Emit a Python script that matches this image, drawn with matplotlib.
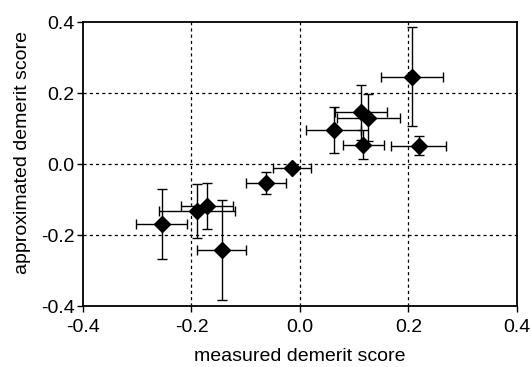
import matplotlib
matplotlib.use("Agg")
import numpy as np
import matplotlib.pyplot as plt

plt.rcParams['font.family'] = ['Liberation Sans', 'DejaVu Sans']

# measured (x) vs approximated (y) demerit scores with error bars
measured = [0.207, 0.113, 0.126, 0.062, 0.117, 0.219, -0.015, -0.062,
            -0.144, -0.255, -0.189, -0.172]
approx = [0.246, 0.146, 0.130, 0.095, 0.054, 0.052, -0.012, -0.052,
          -0.242, -0.169, -0.132, -0.118]
measured_err = [0.057, 0.048, 0.058, 0.050, 0.038, 0.051, 0.035, 0.037,
                0.045, 0.047, 0.070, 0.048]
approx_err = [0.140, 0.077, 0.066, 0.065, 0.041, 0.026, 0.008, 0.031,
              0.140, 0.099, 0.077, 0.066]

ticks = [-0.4, -0.2, 0.0, 0.2, 0.4]
tick_labels = ['-0.4', '-0.2', '0.0', '0.2', '0.4']

fig = plt.figure(figsize=(5.31, 3.67), dpi=100)
ax = fig.add_axes([0.1563, 0.166, 0.8173, 0.774])

ax.errorbar(measured, approx, xerr=measured_err, yerr=approx_err,
            fmt='D', color='black', ecolor='black', markersize=8.5,
            elinewidth=1.0, capsize=3.5, capthick=1.0, zorder=3)

ax.set_xlim(-0.4, 0.4)
ax.set_ylim(-0.4, 0.4)
ax.set_xticks(ticks)
ax.set_xticklabels(tick_labels)
ax.set_yticks(ticks)
ax.set_yticklabels(tick_labels)

for v in [-0.2, 0.0, 0.2]:
    ax.axvline(v, color='black', linestyle=(0, (2.5, 2.5)), linewidth=0.9, zorder=1)
    ax.axhline(v, color='black', linestyle=(0, (2.5, 2.5)), linewidth=0.9, zorder=1)

for s in ax.spines.values():
    s.set_linewidth(1.3)
ax.tick_params(direction='out', length=4, width=1.0, labelsize=14, pad=2)
ax.tick_params(axis='x', pad=5)

ax.set_xlabel('measured demerit score', fontsize=14, labelpad=9)
ax.set_ylabel('approximated demerit score', fontsize=14)
ax.yaxis.set_label_coords(-0.12, 0.54)

fig.savefig('out.png', dpi=100)
